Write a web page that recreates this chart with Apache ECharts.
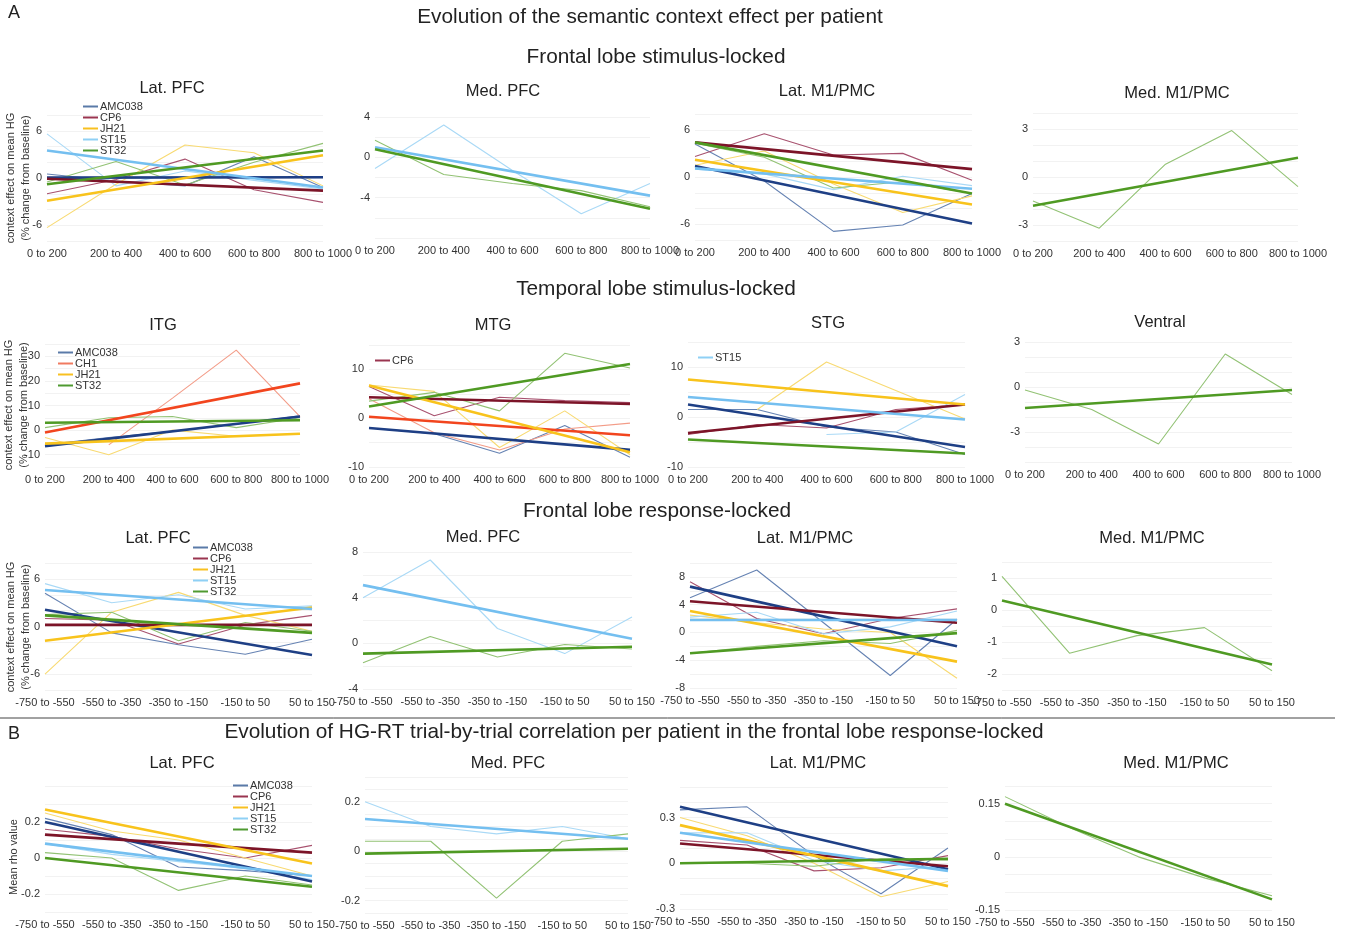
<!DOCTYPE html>
<html><head><meta charset="utf-8">
<script src="https://cdn.jsdelivr.net/npm/echarts@6/dist/echarts.min.js"></script>
<style>html,body{margin:0;padding:0;background:#fff}#c{width:1347px;height:940px}</style>
</head><body><div id="c"></div>
<script>
// ---------- categories ----------
const stimCats = ['0 to 200','200 to 400','400 to 600','600 to 800','800 to 1000'];
const respCats = ['-750 to -550','-550 to -350','-350 to -150','-150 to 50','50 to 150'];

// ---------- A: frontal lobe stimulus-locked ----------
const s1LatPFC_AMC038 = [0.5, -0.4, -1.0, 2.7, -1.2];  const s1LatPFC_AMC038_fit = [0.05, 0.1];
const s1LatPFC_CP6    = [-2.0, -0.2, 2.4, -1.5, -3.1]; const s1LatPFC_CP6_fit    = [-0.1, -1.6];
const s1LatPFC_JH21   = [-6.3, -0.8, 4.2, 3.2, -1.0];  const s1LatPFC_JH21_fit   = [-2.9, 2.9];
const s1LatPFC_ST15   = [5.6, -1.0, 0.9, -0.3, -1.4];  const s1LatPFC_ST15_fit   = [3.5, -1.2];
const s1LatPFC_ST32   = [-0.5, 2.1, -0.9, 2.0, 4.4];   const s1LatPFC_ST32_fit   = [-0.8, 3.5];

const s1MedPFC_ST15 = [-1.1, 3.2, -1.3, -5.6, -2.6]; const s1MedPFC_ST15_fit = [1.0, -3.8];
const s1MedPFC_ST32 = [1.7, -1.7, -2.6, -3.3, -4.9]; const s1MedPFC_ST32_fit = [0.8, -5.1];

const s1LatM1_AMC038 = [4.2, -0.5, -6.9, -6.1, -2.1]; const s1LatM1_AMC038_fit = [1.4, -5.9];
const s1LatM1_CP6    = [2.6, 5.5, 2.8, 3.0, -0.4];    const s1LatM1_CP6_fit    = [4.4, 1.0];
const s1LatM1_JH21   = [1.5, 3.3, -0.9, -4.5, -2.4];  const s1LatM1_JH21_fit   = [2.2, -3.5];
const s1LatM1_ST15   = [1.0, 0.4, -1.6, 0.1, -1.1];   const s1LatM1_ST15_fit   = [1.1, -1.5];
const s1LatM1_ST32   = [4.3, 2.5, -1.4, -0.6, -2.1];  const s1LatM1_ST32_fit   = [4.4, -2.1];

const s1MedM1_ST32 = [-1.5, -3.2, 0.8, 2.9, -0.6]; const s1MedM1_ST32_fit = [-1.8, 1.2];

// ---------- A: temporal lobe stimulus-locked ----------
const s2ITG_AMC038 = [-6, -3, -0.5, 2.5, 5.8];   const s2ITG_AMC038_fit = [-6.5, 5.5];
const s2ITG_CH1    = [null, -6, 13, 32.5, 5.5];  const s2ITG_CH1_fit    = [-1, 19];
const s2ITG_JH21   = [-3, -10, 0, -2.5, -1.5];   const s2ITG_JH21_fit   = [-5.5, -1.5];
const s2ITG_ST32   = [1, 5, 5.5, 1, 5];          const s2ITG_ST32_fit   = [3, 4];

const s2MTG_AMC038 = [-2, -3.2, -7.2, -1.5, -8];  const s2MTG_AMC038_fit = [-2, -6.5];
const s2MTG_CH1    = [4, -3, -6.5, -2.2, -1];     const s2MTG_CH1_fit    = [0.3, -3.5];
const s2MTG_CP6    = [6.5, 0.5, 4.3, 3.6, 3.2];   const s2MTG_CP6_fit    = [4.3, 2.9];
const s2MTG_JH21   = [6.8, 5.5, -6, 1.5, -7.5];   const s2MTG_JH21_fit   = [6.7, -7];
const s2MTG_ST32   = [3.5, 5.3, 1.5, 13.3, 10.3]; const s2MTG_ST32_fit   = [2.4, 11.1];

const s2STG_AMC038 = [1.5, 1.5, -2, -3, -7.5];     const s2STG_AMC038_fit = [2.5, -6];
const s2STG_CP6    = [-3.5, -1.5, -2.2, 1.5, 2.5]; const s2STG_CP6_fit    = [-3.2, 2.5];
const s2STG_JH21   = [null, 1.5, 11, 5.3, -0.4];   const s2STG_JH21_fit   = [7.5, 2.5];
const s2STG_ST15   = [null, null, -3.5, -3, 4.5];  const s2STG_ST15_fit   = [4, -0.5];
const s2STG_ST32   = [null, null, null, null, null]; const s2STG_ST32_fit = [-4.5, -7.3];

const s2Ven_ST32 = [-0.2, -1.5, -3.8, 2.2, -0.5]; const s2Ven_ST32_fit = [-1.4, -0.2];

// ---------- A: frontal lobe response-locked ----------
const s3LatPFC_AMC038 = [4.2, -0.8, -2.3, -3.5, -1.6]; const s3LatPFC_AMC038_fit = [2.1, -3.6];
const s3LatPFC_CP6    = [1.0, 0.8, -2.2, 0.2, 1.4];    const s3LatPFC_CP6_fit    = [0.2, 0.2];
const s3LatPFC_JH21   = [-6, 1.8, 4.3, 1.4, -0.6];     const s3LatPFC_JH21_fit   = [-1.8, 2.4];
const s3LatPFC_ST15   = [5.4, 3.0, 4.0, 2.2, 2.6];     const s3LatPFC_ST15_fit   = [4.6, 2.2];
const s3LatPFC_ST32   = [1.5, 1.8, -1.8, 0.5, -0.6];   const s3LatPFC_ST32_fit   = [1.4, -0.8];

const s3MedPFC_ST15 = [4.0, 7.3, 1.3, -0.9, 2.3];   const s3MedPFC_ST15_fit = [5.1, 0.4];
const s3MedPFC_ST32 = [-1.7, 0.6, -1.2, -0.1, -0.5]; const s3MedPFC_ST32_fit = [-0.9, -0.3];

const s3LatM1_AMC038 = [5, 9, 1.4, -6.2, 1.9];     const s3LatM1_AMC038_fit = [6.6, -2];
const s3LatM1_CP6    = [7.3, 2.0, -0.2, 2.0, 3.4]; const s3LatM1_CP6_fit    = [4.5, 1.4];
const s3LatM1_JH21   = [2.5, 1.4, 0.5, 0.0, -6.6]; const s3LatM1_JH21_fit   = [3.1, -4.2];
const s3LatM1_ST15   = [2.2, 2.9, -0.2, 0.8, 3.1]; const s3LatM1_ST15_fit   = [1.8, 1.8];
const s3LatM1_ST32   = [-3, -2, -1.2, -1.6, 0.3];  const s3LatM1_ST32_fit   = [-3, -0.1];

const s3MedM1_ST32 = [1.05, -1.35, -0.8, -0.55, -1.9]; const s3MedM1_ST32_fit = [0.3, -1.7];

// ---------- B: HG-RT correlation ----------
const s4LatPFC_AMC038 = [0.22, 0.13, -0.05, -0.07, -0.1]; const s4LatPFC_AMC038_fit = [0.2, -0.13];
const s4LatPFC_CP6    = [0.16, 0.12, 0.05, 0.0, 0.07];    const s4LatPFC_CP6_fit    = [0.13, 0.03];
const s4LatPFC_JH21   = [0.25, 0.15, 0.1, 0.0, -0.1];     const s4LatPFC_JH21_fit   = [0.27, -0.03];
const s4LatPFC_ST15   = [0.08, 0.02, -0.02, -0.06, -0.12]; const s4LatPFC_ST15_fit  = [0.08, -0.1];
const s4LatPFC_ST32   = [0.03, 0.0, -0.18, -0.1, -0.15];  const s4LatPFC_ST32_fit   = [0.0, -0.16];

const s4MedPFC_ST15 = [0.2, 0.1, 0.07, 0.1, 0.05];    const s4MedPFC_ST15_fit = [0.13, 0.05];
const s4MedPFC_ST32 = [0.04, 0.04, -0.19, 0.04, 0.07]; const s4MedPFC_ST32_fit = [-0.01, 0.01];

const s4LatM1_AMC038 = [0.35, 0.37, 0.05, -0.2, 0.1];   const s4LatM1_AMC038_fit = [0.37, -0.04];
const s4LatM1_CP6    = [0.15, 0.12, -0.05, -0.03, 0.05]; const s4LatM1_CP6_fit    = [0.13, -0.02];
const s4LatM1_JH21   = [0.3, 0.18, 0.0, -0.22, -0.12];  const s4LatM1_JH21_fit   = [0.25, -0.15];
const s4LatM1_ST15   = [0.2, 0.2, 0.02, -0.05, -0.02];  const s4LatM1_ST15_fit   = [0.2, -0.05];
const s4LatM1_ST32   = [0.0, 0.0, -0.02, 0.03, 0.02];   const s4LatM1_ST32_fit   = [0.0, 0.03];

const s4MedM1_ST32 = [0.17, 0.08, 0.0, -0.06, -0.11]; const s4MedM1_ST32_fit = [0.15, -0.12];

// ---------- colours ----------
const RAW = {AMC038:'#6683b3', CP6:'#a8526f', JH21:'#f8da72', ST15:'#a9d9f6', ST32:'#92c274', CH1:'#f39c88'};
const FIT = {AMC038:'#1e3f85', CP6:'#7c1428', JH21:'#f8c31c', ST15:'#74bff0', ST32:'#4f9a23', CH1:'#f2451e'};
const LEG = {AMC038:'#5a7aa8', CP6:'#9a3550', JH21:'#f8c020', ST15:'#8fd0f5', ST32:'#4f9a30', CH1:'#f07a60'};

const FIVE = ['AMC038','CP6','JH21','ST15','ST32'];

const PANELS = [
 {t:'Lat. PFC', tx:172, ty:88, g:[47,115,276,126], c:stimCats, y:[-8,8,2], lab:[-6,0,6], L:[
   ['AMC038',s1LatPFC_AMC038,s1LatPFC_AMC038_fit],['CP6',s1LatPFC_CP6,s1LatPFC_CP6_fit],['JH21',s1LatPFC_JH21,s1LatPFC_JH21_fit],['ST15',s1LatPFC_ST15,s1LatPFC_ST15_fit],['ST32',s1LatPFC_ST32,s1LatPFC_ST32_fit]]},
 {t:'Med. PFC', tx:503, ty:91, g:[375,117,275,121], c:stimCats, y:[-8,4,2], lab:[-4,0,4], L:[
   ['ST15',s1MedPFC_ST15,s1MedPFC_ST15_fit],['ST32',s1MedPFC_ST32,s1MedPFC_ST32_fit]]},
 {t:'Lat. M1/PMC', tx:827, ty:91, g:[695,114,277,126], c:stimCats, y:[-8,8,2], lab:[-6,0,6], L:[
   ['AMC038',s1LatM1_AMC038,s1LatM1_AMC038_fit],['CP6',s1LatM1_CP6,s1LatM1_CP6_fit],['JH21',s1LatM1_JH21,s1LatM1_JH21_fit],['ST15',s1LatM1_ST15,s1LatM1_ST15_fit],['ST32',s1LatM1_ST32,s1LatM1_ST32_fit]]},
 {t:'Med. M1/PMC', tx:1177, ty:93, g:[1033,113,265,128], c:stimCats, y:[-4,4,1], lab:[-3,0,3], L:[
   ['ST32',s1MedM1_ST32,s1MedM1_ST32_fit]]},

 {t:'ITG', tx:163, ty:325, g:[45,344,255,123], c:stimCats, y:[-15,35,5], lab:[-10,0,10,20,30], L:[
   ['AMC038',s2ITG_AMC038,s2ITG_AMC038_fit],['CH1',s2ITG_CH1,s2ITG_CH1_fit],['JH21',s2ITG_JH21,s2ITG_JH21_fit],['ST32',s2ITG_ST32,s2ITG_ST32_fit]]},
 {t:'MTG', tx:493, ty:325, g:[369,345,261,122], c:stimCats, y:[-10,15,5], lab:[-10,0,10], L:[
   ['AMC038',s2MTG_AMC038,s2MTG_AMC038_fit],['CH1',s2MTG_CH1,s2MTG_CH1_fit],['CP6',s2MTG_CP6,s2MTG_CP6_fit],['JH21',s2MTG_JH21,s2MTG_JH21_fit],['ST32',s2MTG_ST32,s2MTG_ST32_fit]]},
 {t:'STG', tx:828, ty:323, g:[688,342,277,125], c:stimCats, y:[-10,15,5], lab:[-10,0,10], L:[
   ['AMC038',s2STG_AMC038,s2STG_AMC038_fit],['CP6',s2STG_CP6,s2STG_CP6_fit],['JH21',s2STG_JH21,s2STG_JH21_fit],['ST15',s2STG_ST15,s2STG_ST15_fit],['ST32',s2STG_ST32,s2STG_ST32_fit]]},
 {t:'Ventral', tx:1160, ty:322, g:[1025,342,267,120], c:stimCats, y:[-5,3,1], lab:[-3,0,3], L:[
   ['ST32',s2Ven_ST32,s2Ven_ST32_fit]]},

 {t:'Lat. PFC', tx:158, ty:538, g:[45,563,267,127], c:respCats, y:[-8,8,2], lab:[-6,0,6], L:[
   ['AMC038',s3LatPFC_AMC038,s3LatPFC_AMC038_fit],['CP6',s3LatPFC_CP6,s3LatPFC_CP6_fit],['JH21',s3LatPFC_JH21,s3LatPFC_JH21_fit],['ST15',s3LatPFC_ST15,s3LatPFC_ST15_fit],['ST32',s3LatPFC_ST32,s3LatPFC_ST32_fit]]},
 {t:'Med. PFC', tx:483, ty:537, g:[363,552,269,137], c:respCats, y:[-4,8,2], lab:[-4,0,4,8], L:[
   ['ST15',s3MedPFC_ST15,s3MedPFC_ST15_fit],['ST32',s3MedPFC_ST32,s3MedPFC_ST32_fit]]},
 {t:'Lat. M1/PMC', tx:805, ty:538, g:[690,563,267,125], c:respCats, y:[-8,10,2], lab:[-8,-4,0,4,8], L:[
   ['AMC038',s3LatM1_AMC038,s3LatM1_AMC038_fit],['CP6',s3LatM1_CP6,s3LatM1_CP6_fit],['JH21',s3LatM1_JH21,s3LatM1_JH21_fit],['ST15',s3LatM1_ST15,s3LatM1_ST15_fit],['ST32',s3LatM1_ST32,s3LatM1_ST32_fit]]},
 {t:'Med. M1/PMC', tx:1152, ty:538, g:[1002,562,270,128], c:respCats, y:[-2.5,1.5,0.5], lab:[-2,-1,0,1], L:[
   ['ST32',s3MedM1_ST32,s3MedM1_ST32_fit]]},

 {t:'Lat. PFC', tx:182, ty:763, g:[45,786,267,126], c:respCats, y:[-0.3,0.4,0.1], lab:[-0.2,0,0.2], L:[
   ['AMC038',s4LatPFC_AMC038,s4LatPFC_AMC038_fit],['CP6',s4LatPFC_CP6,s4LatPFC_CP6_fit],['JH21',s4LatPFC_JH21,s4LatPFC_JH21_fit],['ST15',s4LatPFC_ST15,s4LatPFC_ST15_fit],['ST32',s4LatPFC_ST32,s4LatPFC_ST32_fit]]},
 {t:'Med. PFC', tx:508, ty:763, g:[365,777,263,136], c:respCats, y:[-0.25,0.3,0.05], lab:[-0.2,0,0.2], L:[
   ['ST15',s4MedPFC_ST15,s4MedPFC_ST15_fit],['ST32',s4MedPFC_ST32,s4MedPFC_ST32_fit]]},
 {t:'Lat. M1/PMC', tx:818, ty:763, g:[680,787,268,122], c:respCats, y:[-0.3,0.5,0.1], lab:[-0.3,0,0.3], L:[
   ['AMC038',s4LatM1_AMC038,s4LatM1_AMC038_fit],['CP6',s4LatM1_CP6,s4LatM1_CP6_fit],['JH21',s4LatM1_JH21,s4LatM1_JH21_fit],['ST15',s4LatM1_ST15,s4LatM1_ST15_fit],['ST32',s4LatM1_ST32,s4LatM1_ST32_fit]]},
 {t:'Med. M1/PMC', tx:1176, ty:763, g:[1005,786,267,124], c:respCats, y:[-0.15,0.2,0.05], lab:[-0.15,0,0.15], L:[
   ['ST32',s4MedM1_ST32,s4MedM1_ST32_fit]]}
];

const FONT = 'Liberation Sans, Arial, Helvetica, sans-serif';
const grid = [], xAxis = [], yAxis = [], series = [], graphic = [];

function txt(text, x, y, size, opt) {
  opt = opt || {};
  return {type:'text', x:x, y:y, rotation: opt.rot || 0, silent:true, z:10,
    style:{text:text, fill: opt.color || '#222', font: size + 'px ' + FONT,
      align:'center', verticalAlign:'middle', textAlign:'center', textVerticalAlign:'middle',
      lineHeight: opt.lh || size}};
}

PANELS.forEach((p, i) => {
  grid.push({left:p.g[0], top:p.g[1], width:p.g[2], height:p.g[3], containLabel:false});
  xAxis.push({type:'category', gridIndex:i, data:p.c, boundaryGap:false,
    axisLine:{show:false}, axisTick:{show:false},
    axisLabel:{interval:0, hideOverlap:false, fontSize:11, color:'#333', fontFamily:FONT, margin:7}});
  const labs = p.lab;
  yAxis.push({type:'value', gridIndex:i, min:p.y[0], max:p.y[1], interval:p.y[2],
    axisLine:{show:false}, axisTick:{show:false},
    splitLine:{show:true, lineStyle:{color:'#f2f2f2', width:1}},
    axisLabel:{fontSize:11, color:'#333', fontFamily:FONT, margin:5,
      formatter: v => labs.some(l => Math.abs(l - v) < 1e-9) ? String(Math.round(v*100)/100) : ''}});
  p.L.forEach(l => {
    const name = l[0];
    series.push({type:'line', name:name, xAxisIndex:i, yAxisIndex:i, data:l[1], symbol:'none',
      silent:true, z:2, lineStyle:{width:1.1, color:RAW[name]}, itemStyle:{color:RAW[name]}});
  });
  p.L.forEach(l => {
    const name = l[0], f = l[2];
    series.push({type:'line', name:name, xAxisIndex:i, yAxisIndex:i,
      data:[f[0], null, null, null, f[1]], connectNulls:true, symbol:'none',
      silent:true, z:3, lineStyle:{width:2.6, color:FIT[name]}, itemStyle:{color:FIT[name]}});
  });
  graphic.push(txt(p.t, p.tx, p.ty, 16.5));
});

// headings
const HS = 20.8;
graphic.push(txt('A', 14, 13, 18));
graphic.push(txt('Evolution of the semantic context effect per patient', 650, 17, HS));
graphic.push(txt('Frontal lobe stimulus-locked', 656, 57, HS));
graphic.push(txt('Temporal lobe stimulus-locked', 656, 289, HS));
graphic.push(txt('Frontal lobe response-locked', 657, 511, HS));
graphic.push(txt('B', 14, 734, 18));
graphic.push(txt('Evolution of HG-RT trial-by-trial correlation per patient in the frontal lobe response-locked', 634, 732, HS));
graphic.push({type:'line', silent:true, shape:{x1:0, y1:718, x2:1335, y2:718}, style:{stroke:'#444', lineWidth:1}});

// y axis names
const yName = 'context effect on mean HG\n(% change from baseline)';
graphic.push(txt(yName, 18, 178, 11, {rot:Math.PI/2, lh:15, color:'#333'}));
graphic.push(txt(yName, 16, 405, 11, {rot:Math.PI/2, lh:15, color:'#333'}));
graphic.push(txt(yName, 18, 627, 11, {rot:Math.PI/2, lh:15, color:'#333'}));
graphic.push(txt('Mean rho value', 14, 857, 11, {rot:Math.PI/2, color:'#333'}));

function legend(left, top, names) {
  return {orient:'vertical', left:left, top:top, padding:0, itemGap:0, itemWidth:15, itemHeight:2,
    icon:'rect', selectedMode:false,
    textStyle:{fontSize:11, lineHeight:11, color:'#333', fontFamily:FONT, padding:[0,0,0,-3]},
    data: names.map(n => ({name:n, icon:'rect', itemStyle:{color:LEG[n], borderWidth:0}}))};
}
const legends = [
  legend(83, 101, FIVE),
  legend(58, 347, ['AMC038','CH1','JH21','ST32']),
  legend(375, 355, ['CP6']),
  legend(698, 352, ['ST15']),
  legend(193, 542, FIVE),
  legend(233, 780, FIVE)
];

const chart = echarts.init(document.getElementById('c'), null, {renderer:'canvas'});
chart.setOption({animation:false, backgroundColor:'#fff', grid, xAxis, yAxis, series, legend:legends, graphic});
</script></body></html>
